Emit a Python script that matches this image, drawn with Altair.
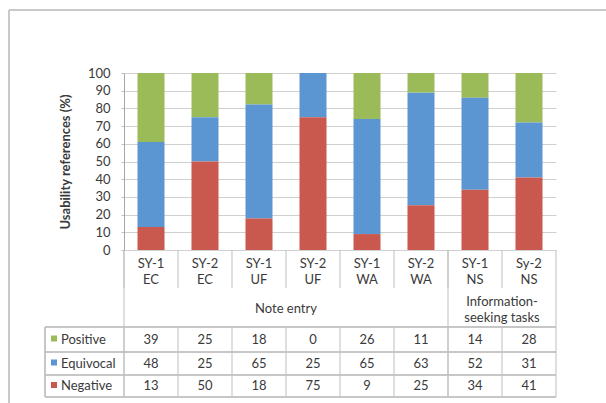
import altair as alt
import pandas as pd

categories = ["SY-1 EC", "SY-2 EC", "SY-1 UF", "SY-2 UF", "SY-1 WA", "SY-2 WA", "SY-1 NS", "Sy-2 NS"]
cat_labels = ["SY-1\nEC", "SY-2\nEC", "SY-1\nUF", "SY-2\nUF", "SY-1\nWA", "SY-2\nWA", "SY-1\nNS", "Sy-2\nNS"]
group_labels = ["Note entry", "Information-\nseeking tasks"]
group_centers = ["SY-2 UF", "Sy-2 NS"]          # band whose left edge is the group's centre
group_starts = ["SY-1 EC", "SY-1 NS"]
series = ["Positive", "Equivocal", "Negative"]
positive = [39, 25, 18, 0, 26, 11, 14, 28]
equivocal = [48, 25, 65, 25, 65, 63, 52, 31]
negative = [13, 50, 18, 75, 9, 25, 34, 41]
y_ticks = [v / 100 for v in range(0, 101, 10)]
colors = ["#9BBB59", "#5B96D3", "#C9584F"]

FONT = "Lato"
FS = 13
TXT = "#3a3a3a"
LINE = "#BFBFBF"
W, H = 432, 177

vals = {"Positive": positive, "Equivocal": equivocal, "Negative": negative}
order = {"Negative": 0, "Equivocal": 1, "Positive": 2}
rows = []
for i, c in enumerate(categories):
    for s in series:
        rows.append(dict(cat=c, series=s, value=vals[s][i], order=order[s]))
df = pd.DataFrame(rows)
cat_df = pd.DataFrame(dict(cat=categories, label=cat_labels))
grp_df = pd.DataFrame(dict(cat=group_centers, label=group_labels))
gstart_df = pd.DataFrame(dict(cat=group_starts))
legend_df = pd.DataFrame(dict(series=series))

xscale = alt.Scale(domain=categories, paddingInner=0, paddingOuter=0)
xe = alt.X("cat:N", scale=xscale, axis=None)
xe_left = alt.X("cat:N", scale=xscale, axis=None, bandPosition=0)

bars = alt.Chart(df).mark_bar(width=alt.RelativeBandSize(0.5)).encode(
    x=xe,
    y=alt.Y("value:Q", stack="normalize", scale=alt.Scale(domain=[0, 1], nice=False),
            axis=alt.Axis(values=y_ticks, labelExpr="round(datum.value*100)", grid=True,
                          gridColor="#D0D0D0", domainColor="#A6A6A6",
                          tickColor="#BFBFBF", tickSize=3, labelFont=FONT, labelFontSize=FS,
                          labelColor=TXT, labelPadding=11, title="Usability references (%)",
                          titleFont=FONT, titleFontSize=FS, titleFontWeight="bold",
                          titleColor=TXT, titlePadding=15)),
    color=alt.Color("series:N", scale=alt.Scale(domain=series, range=colors), legend=None),
    order=alt.Order("order:Q"),
)

# category labels
cat_text = alt.Chart(cat_df).mark_text(lineBreak="\n", lineHeight=16, font=FONT, fontSize=FS,
                                       color=TXT, baseline="middle").encode(
    x=xe, y=alt.value(191), text="label:N")
grp_text1 = alt.Chart(grp_df.iloc[[0]]).mark_text(font=FONT, fontSize=FS,
                                                  color=TXT, baseline="middle").encode(
    x=xe_left, y=alt.value(236), text="label:N")
grp_text2 = alt.Chart(grp_df.iloc[[1]]).mark_text(lineBreak="\n", lineHeight=16, font=FONT, fontSize=FS,
                                                  color=TXT, baseline="middle").encode(
    x=xe_left, y=alt.value(229), text="label:N")

# table lines
sub_rules = alt.Chart(cat_df).mark_rule(color=LINE, strokeWidth=1).encode(
    x=xe_left, y=alt.value(177), y2=alt.value(215))
row_rules = alt.Chart(cat_df).mark_rule(color=LINE, strokeWidth=1).encode(
    x=xe_left, y=alt.value(254), y2=alt.value(324))
grp_rules = alt.Chart(gstart_df).mark_rule(color=LINE, strokeWidth=1).encode(
    x=xe_left, y=alt.value(177), y2=alt.value(324))
end_rule = alt.Chart(pd.DataFrame(dict(cat=[categories[-1]]))).mark_rule(color=LINE, strokeWidth=1).encode(
    x=alt.X("cat:N", scale=xscale, axis=None, bandPosition=1), y=alt.value(177), y2=alt.value(324))

hlines = []
for yy in [254, 279, 302, 324]:
    hlines.append(alt.Chart(legend_df).mark_rule(color=LINE, strokeWidth=1).encode(
        x=alt.value(-79), x2=alt.value(W), y=alt.value(yy)))
leg_left = alt.Chart(legend_df).mark_rule(color=LINE, strokeWidth=1).encode(
    x=alt.value(-79), y=alt.value(254), y2=alt.value(324))

# outer frame
frame_l = alt.Chart(legend_df).mark_rule(color="#C8C8C8", strokeWidth=1.5).encode(
    x=alt.value(-115), y=alt.value(-63), y2=alt.value(330))
frame_t = alt.Chart(legend_df).mark_rule(color="#C8C8C8", strokeWidth=1.5).encode(
    x=alt.value(-115), x2=alt.value(482), y=alt.value(-63))

row_y = {"Positive": 266.5, "Equivocal": 290.5, "Negative": 313}
table_layers = []
for s in series:
    sub = df[df.series == s]
    table_layers.append(alt.Chart(sub).mark_text(font=FONT, fontSize=FS, color=TXT, baseline="middle").encode(
        x=xe, y=alt.value(row_y[s]), text="value:Q"))
    sdf = legend_df[legend_df.series == s]
    table_layers.append(alt.Chart(sdf).mark_square(size=36, opacity=1).encode(
        x=alt.value(-70), y=alt.value(row_y[s] - 1),
        color=alt.Color("series:N", scale=alt.Scale(domain=series, range=colors), legend=None)))
    table_layers.append(alt.Chart(sdf).mark_text(font=FONT, fontSize=FS, color=TXT, align="left",
                                                 baseline="middle").encode(
        x=alt.value(-63), y=alt.value(row_y[s]), text="series:N"))

chart = alt.layer(
    frame_l, frame_t, bars, cat_text, grp_text1, grp_text2, sub_rules, row_rules, grp_rules, end_rule,
    *hlines, leg_left, *table_layers
).properties(
    width=W, height=H,
    padding={"left": 124, "top": 73, "right": 50, "bottom": 153},
    autosize=alt.AutoSizeParams(type="none"),
    background="white",
).configure_view(stroke=None)

chart.save("out.html", embed_options={"renderer": "svg", "actions": False})
